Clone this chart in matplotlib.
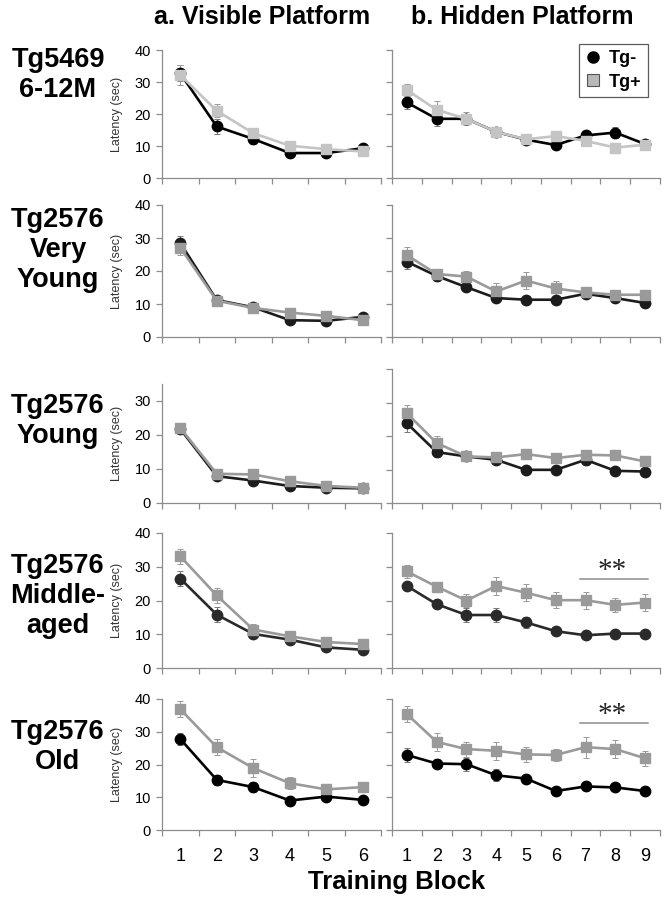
import numpy as np
import matplotlib
matplotlib.use("Agg")
import matplotlib.pyplot as plt
from matplotlib.lines import Line2D

plt.rcParams['font.family'] = ['Liberation Sans', 'DejaVu Sans']

# ---- data (latency in sec) ----
visible_blocks = [1, 2, 3, 4, 5, 6]
hidden_blocks = [1, 2, 3, 4, 5, 6, 7, 8, 9]

row_labels = ['Tg5469\n6-12M', 'Tg2576\nVery\nYoung', 'Tg2576\nYoung',
              'Tg2576\nMiddle-\naged', 'Tg2576\nOld']
col_titles = ['a. Visible Platform', 'b. Hidden Platform']
series_names = ['Tg-', 'Tg+']

vis_neg = [[32.7, 16.1, 12.2, 7.8, 7.8, 9.3],
           [28.5, 11.2, 9.0, 5.1, 4.9, 6.1],
           [21.8, 7.9, 6.6, 5.0, 4.5, 4.3],
           [26.5, 15.8, 10.1, 8.4, 6.1, 5.4],
           [27.8, 15.3, 13.1, 9.0, 10.2, 9.2]]
vis_neg_err = [[2.5, 2.3, 1.5, 0.8, 0.8, 1.0],
               [2.0, 1.2, 1.0, 0.6, 0.6, 0.8],
               [1.2, 1.0, 0.8, 0.6, 0.5, 0.5],
               [2.3, 2.2, 1.0, 0.8, 0.6, 0.6],
               [1.8, 1.5, 1.5, 1.2, 1.0, 1.0]]
vis_pos = [[32.2, 21.0, 14.0, 10.1, 9.0, 8.3],
           [27.1, 11.0, 8.8, 7.4, 6.4, 5.1],
           [22.1, 8.6, 8.4, 6.4, 5.0, 4.5],
           [33.1, 21.5, 11.4, 9.4, 7.7, 7.1],
           [36.9, 25.3, 18.9, 14.3, 12.4, 13.1]]
vis_pos_err = [[3.0, 2.0, 1.2, 1.0, 0.8, 0.8],
               [2.2, 1.0, 1.0, 1.0, 0.8, 0.8],
               [1.2, 1.0, 1.0, 0.8, 0.6, 0.5],
               [2.2, 2.2, 1.5, 1.0, 0.8, 0.8],
               [2.5, 2.5, 2.8, 1.8, 1.2, 1.2]]

hid_neg = [[23.6, 18.5, 18.5, 14.4, 12.0, 10.3, 13.3, 14.2, 10.6],
           [22.8, 18.5, 15.1, 11.8, 11.3, 11.3, 13.1, 11.8, 10.3],
           [23.8, 15.2, 13.9, 12.9, 9.9, 9.9, 12.9, 9.6, 9.4],
           [24.3, 18.9, 15.7, 15.7, 13.5, 10.9, 9.7, 10.2, 10.2],
           [22.9, 20.3, 20.1, 16.7, 15.7, 11.9, 13.3, 13.0, 11.9]]
hid_neg_err = [[2.0, 2.3, 1.5, 1.2, 0.8, 0.8, 1.2, 1.8, 0.8],
               [2.3, 1.5, 1.2, 1.0, 1.0, 1.0, 1.0, 0.8, 1.0],
               [2.5, 1.5, 1.2, 1.3, 1.0, 1.0, 1.6, 1.0, 1.0],
               [1.2, 1.2, 2.2, 2.2, 1.5, 1.0, 1.0, 1.0, 1.0],
               [2.2, 1.3, 2.0, 1.8, 1.2, 1.0, 1.2, 1.2, 1.0]]
hid_pos = [[27.5, 21.3, 18.5, 14.4, 12.1, 13.1, 11.6, 9.5, 10.4],
           [24.8, 19.1, 18.3, 13.8, 17.1, 14.7, 13.5, 12.8, 12.8],
           [26.8, 17.9, 13.9, 13.6, 14.6, 13.4, 14.4, 14.2, 12.4],
           [28.6, 24.1, 20.0, 24.3, 22.3, 20.1, 20.1, 18.7, 19.4],
           [35.4, 26.9, 24.7, 24.2, 23.1, 22.9, 25.3, 24.7, 21.9]]
hid_pos_err = [[2.0, 2.8, 2.0, 1.2, 1.0, 1.0, 1.0, 0.8, 0.8],
               [2.5, 1.5, 1.8, 2.5, 2.5, 2.4, 1.5, 1.2, 1.0],
               [2.5, 2.0, 1.2, 1.2, 1.2, 1.0, 1.5, 1.2, 1.2],
               [1.8, 1.5, 1.8, 2.8, 2.5, 2.3, 2.5, 2.0, 2.6],
               [2.5, 2.8, 2.3, 2.8, 2.2, 1.8, 3.2, 2.8, 2.3]]

# significance bars on hidden platform (rows 4 and 5): row, x-from, x-to, bar level
sig_rows = [3, 4]
sig_x = [6.8, 9.1]
sig_level = [26.4, 32.7]

# ---- layout (pixels of a 664 x 899 canvas) ----
W, H = 664, 899
left_x = (162, 381)
right_x = (392, 660)
row_top_left = [50, 205, 384, 533, 699]
row_top_right = [50, 205, 369, 533, 699]
row_bottom = [178, 337, 503, 668, 830]
left_ymax = [40, 40, 35, 40, 40]
label_y = [75, 250, 421, 596, 747]

neg_colors = ['#000000', '#1c1c1c', '#1c1c1c', '#2a2a2a', '#000000']
pos_colors = ['#c4c4c4', '#9a9a9a', '#9a9a9a', '#9a9a9a', '#9a9a9a']
spine_col = '#8c8c8c'


def rect(x0, x1, top, bottom):
    return [x0 / W, 1 - bottom / H, (x1 - x0) / W, (bottom - top) / H]


def style_axis(ax, n, ymax, show_ylabels, show_xlabels):
    for s in ['top', 'right']:
        ax.spines[s].set_visible(False)
    for s in ['left', 'bottom']:
        ax.spines[s].set_color(spine_col)
        ax.spines[s].set_linewidth(0.9)
    ax.set_xlim(0.5, n + 0.5)
    ax.set_ylim(0, ymax)
    ax.set_xticks(np.arange(n + 1) + 0.5)
    ax.set_xticklabels([])
    ax.set_yticks(np.arange(0, ymax + 1, 10))
    ax.tick_params(axis='both', which='major', direction='out', length=4,
                   width=0.9, color=spine_col, labelsize=10.5, pad=4)
    if not show_ylabels:
        ax.set_yticklabels([])
    if show_xlabels:
        ax.set_xticks(np.arange(1, n + 1), minor=True)
        ax.set_xticklabels([str(i) for i in range(1, n + 1)], minor=True)
        ax.tick_params(axis='x', which='minor', length=0, labelsize=13, pad=13)


def draw_series(ax, x, yn, en, yp, ep, cn, cp):
    ax.errorbar(x, yn, yerr=en, fmt='none', ecolor='#777777', elinewidth=0.7,
                capsize=2, capthick=0.7, zorder=2)
    ax.errorbar(x, yp, yerr=ep, fmt='none', ecolor='#9a9a9a', elinewidth=0.7,
                capsize=2, capthick=0.7, zorder=2)
    ax.plot(x, yn, color=cn, lw=1.9, marker='o', ms=7.5, mec=cn, mfc=cn, zorder=3)
    ax.plot(x, yp, color=cp, lw=1.9, marker='s', ms=7.2, mec=cp, mfc=cp, zorder=4)


fig = plt.figure(figsize=(W / 100, H / 100), dpi=100)

for r in range(5):
    last = r == 4
    axl = fig.add_axes(rect(left_x[0], left_x[1], row_top_left[r], row_bottom[r]))
    style_axis(axl, len(visible_blocks), left_ymax[r], True, last)
    draw_series(axl, visible_blocks, vis_neg[r], vis_neg_err[r], vis_pos[r], vis_pos_err[r],
                neg_colors[r], pos_colors[r])
    axl.set_ylabel('Latency (sec)', fontsize=9, color='#333333', labelpad=8)

    axr = fig.add_axes(rect(right_x[0], right_x[1], row_top_right[r], row_bottom[r]))
    style_axis(axr, len(hidden_blocks), 40, False, last)
    draw_series(axr, hidden_blocks, hid_neg[r], hid_neg_err[r], hid_pos[r], hid_pos_err[r],
                neg_colors[r], pos_colors[r])

    if r in sig_rows:
        k = sig_rows.index(r)
        axr.plot(sig_x, [sig_level[k]] * 2, color='#8c8c8c', lw=1.1)
        axr.text(np.mean(sig_x) - 0.05, sig_level[k] + 0.3, '**', ha='center', va='baseline',
                 fontsize=21, family=['Liberation Serif', 'DejaVu Serif'], color='#222222')

    fig.text(58 / W, 1 - label_y[r] / H, row_labels[r], ha='center', va='center',
             fontsize=19.5, fontweight='bold', linespacing=1.22)

fig.text(262 / W, 1 - 17 / H, col_titles[0], ha='center', va='center',
         fontsize=18, fontweight='bold')
fig.text(522 / W, 1 - 17 / H, col_titles[1], ha='center', va='center',
         fontsize=18, fontweight='bold')
fig.text(397 / W, 1 - 882 / H, 'Training Block', ha='center', va='center',
         fontsize=18.5, fontweight='bold')

handles = [Line2D([], [], ls='none', marker='o', ms=8, mfc='black', mec='black'),
           Line2D([], [], ls='none', marker='s', ms=8.5, mfc='#b8b8b8', mec='#555555', mew=0.8)]
leg = fig.legend(handles, series_names, loc='upper right',
                 bbox_to_anchor=(657 / W, 1 - 35 / H), frameon=True, fancybox=False,
                 handlelength=0.8, handletextpad=0.5, borderpad=0.35, labelspacing=0.35,
                 prop={'weight': 'bold', 'size': 13})
leg.get_frame().set_edgecolor('#333333')
leg.get_frame().set_linewidth(0.9)

fig.savefig('out.png', dpi=100)
